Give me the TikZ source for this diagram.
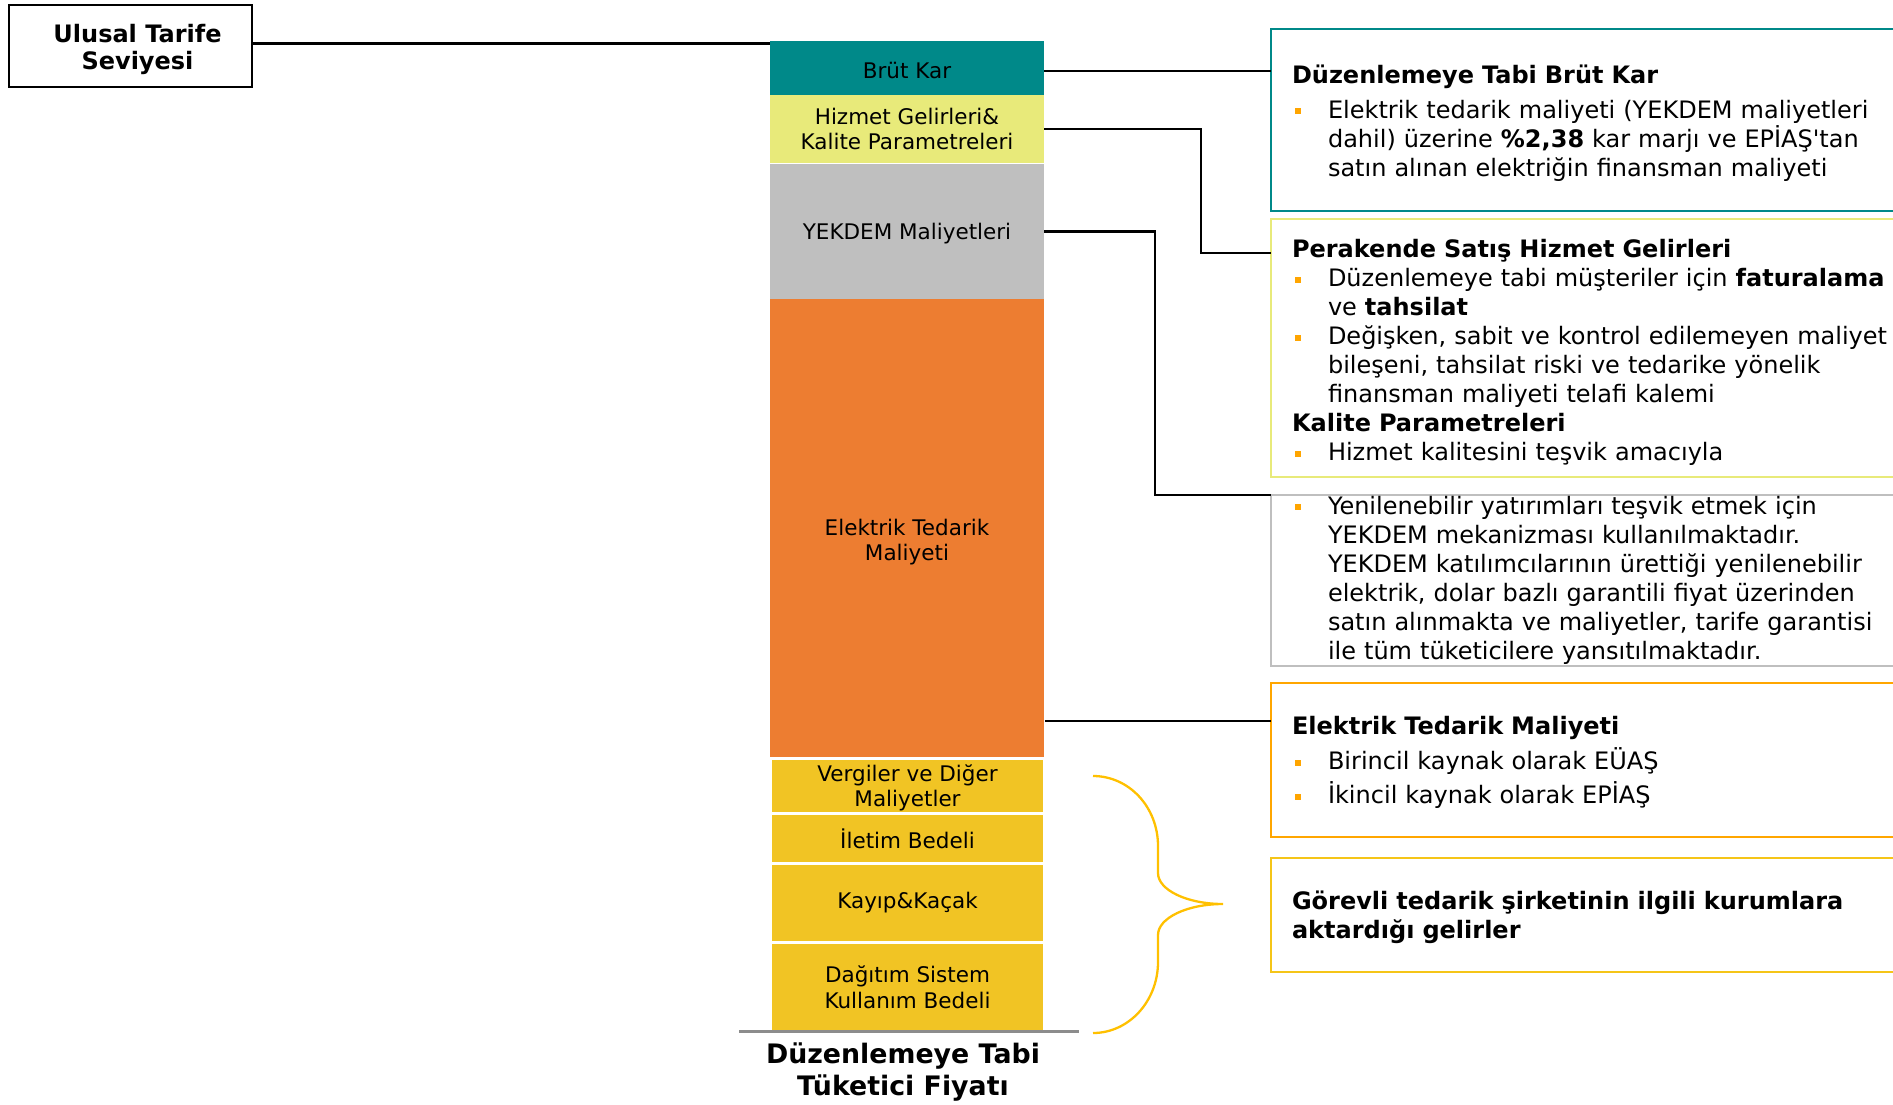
\documentclass[tikz,border=0pt]{standalone}
\usepackage{fontspec}
\setmainfont{DejaVu Sans}
\usetikzlibrary{arrows}

\definecolor{brutteal}{RGB}{0,137,137}
\definecolor{hizmetyel}{RGB}{232,234,122}
\definecolor{yekgray}{RGB}{191,191,191}
\definecolor{tedorange}{RGB}{237,125,49}
\definecolor{vergigold}{RGB}{241,196,36}
\definecolor{boxorange}{RGB}{255,166,0}
\definecolor{boxgold}{RGB}{245,197,24}
\definecolor{bracegold}{RGB}{255,192,0}
\definecolor{bulletor}{RGB}{255,165,0}

\newcommand\bulitem{\makebox[36pt][l]{\hspace{3pt}\textcolor{bulletor}{\rule[4pt]{6pt}{6pt}}}}
\newcommand\bulpad{\hspace*{36pt}}

\tikzset{
  seg/.style={fill=#1, minimum width=274pt, inner sep=0pt, outer sep=0pt,
    align=center, font=\fontsize{21.5}{25.5}\selectfont},
  infobox/.style={draw=#1, line width=2pt, anchor=west, outer sep=0pt,
    text width=650pt, inner xsep=21pt, inner ysep=0pt, align=left,
    font=\fontsize{24}{29}\selectfont},
  link/.style={black, line width=2.4pt},
}

\begin{document}
\begin{tikzpicture}[x=1pt,y=-1pt]
   \useasboundingbox (0,0) rectangle (1893,1104);

   \node[draw=black, line width=1.6pt, minimum width=243pt, minimum height=82pt,
     align=center, font=\bfseries\fontsize{24}{27.5}\selectfont] (ulusal) at (130.5,46)
     {\rule{0pt}{25.5pt}\hspace*{14pt}Ulusal Tarife\\\hspace*{14pt}Seviyesi};

   \node[seg=brutteal, minimum height=54pt] (brut) at (907,68) {\rule{0pt}{22pt}Brüt Kar};
   \node[seg=hizmetyel, minimum height=68pt] (hizmet) at (907,129) {Hizmet Gelirleri\&\\Kalite Parametreleri};
   \node[seg=yekgray, minimum height=135pt] (yekdem) at (907,231.5) {\rule{0pt}{20pt}YEKDEM Maliyetleri};
   \node[seg=tedorange, minimum height=458pt] (tedarik) at (907,528) {\rule{0pt}{44pt}Elektrik Tedarik\\Maliyeti};
   \node[seg=vergigold, minimum width=271pt, minimum height=52pt] (vergi) at (907.5,786) {\rule{0pt}{20pt}Vergiler ve Diğer\\Maliyetler};
   \node[seg=vergigold, minimum width=271pt, minimum height=47pt] (iletim) at (907.5,838.5) {İletim Bedeli};
   \node[seg=vergigold, minimum width=271pt, minimum height=76pt] (kayip) at (907.5,903) {Kayıp\&Kaçak};
   \node[seg=vergigold, minimum width=271pt, minimum height=86pt] (dagitim) at (907.5,987) {Dağıtım Sistem\\Kullanım Bedeli};

   \draw[black!45, line width=2.5pt] (739,1031.5) -- (1079,1031.5);
   \node[align=center, font=\bfseries\fontsize{26.8}{31.5}\selectfont] (fiyat) at (903,1072)
     {Düzenlemeye Tabi\\Tüketici Fiyatı};

   \node[infobox=brutteal, minimum height=182pt] (brutbox) at (1271,120) {%
     \rule{0pt}{24.5pt}\textbf{Düzenlemeye Tabi Brüt Kar}\\[6pt]
     \bulitem Elektrik tedarik maliyeti (YEKDEM maliyetleri\\
     \bulpad dahil) üzerine \textbf{\%2,38} kar marjı ve EPİAŞ\textquotesingle tan\\
     \bulpad satın alınan elektriğin finansman maliyeti};
   \node[infobox=hizmetyel, minimum height=258pt] (hizmetbox) at (1271,348) {%
     \rule{0pt}{27.5pt}\textbf{Perakende Satış Hizmet Gelirleri}\\
     \bulitem Düzenlemeye tabi müşteriler için \textbf{faturalama}\\
     \bulpad ve \textbf{tahsilat}\\
     \bulitem Değişken, sabit ve kontrol edilemeyen maliyet\\
     \bulpad bileşeni, tahsilat riski ve tedarike yönelik\\
     \bulpad finansman maliyeti telafi kalemi\\
     \textbf{Kalite Parametreleri}\\
     \bulitem Hizmet kalitesini teşvik amacıyla};
   \node[infobox=yekgray, minimum height=171pt] (yekdembox) at (1271,580) {%
     \bulitem Yenilenebilir yatırımları teşvik etmek için\\
     \bulpad YEKDEM mekanizması kullanılmaktadır.\\
     \bulpad YEKDEM katılımcılarının ürettiği yenilenebilir\\
     \bulpad elektrik, dolar bazlı garantili fiyat üzerinden\\
     \bulpad satın alınmakta ve maliyetler, tarife garantisi\\
     \bulpad ile tüm tüketicilere yansıtılmaktadır.};
   \node[infobox=boxorange, minimum height=154pt] (tedarikbox) at (1271,760) {%
     \rule{0pt}{23pt}\textbf{Elektrik Tedarik Maliyeti}\\[6pt]
     \bulitem Birincil kaynak olarak EÜAŞ\\[5pt]
     \bulitem İkincil kaynak olarak EPİAŞ};
   \node[infobox=boxgold, minimum height=114pt] (gorevbox) at (1271,915) {%
     \rule{0pt}{23pt}\textbf{Görevli tedarik şirketinin ilgili kurumlara}\\
     \textbf{aktardığı gelirler}};

   \coordinate (hzturn) at (1201,253);
   \coordinate (ykturn) at (1155,495);
   \coordinate (tdout) at (1045,721);
   \draw[link] ([yshift=2.5pt]ulusal.east) -- ([yshift=2.5pt]ulusal.east -| brut.west);
   \draw[link] ([yshift=-3pt]brut.east) -- ([yshift=-3pt]brut.east -| brutbox.west);
   \draw[link] (hizmet.east) -| (hzturn) -- (hzturn -| hizmetbox.west);
   \draw[link] (yekdem.east) -| (ykturn) -- (ykturn -| yekdembox.west);
   \draw[link] (tdout) -- (tdout -| tedarikbox.west);

   \draw[bracegold, line width=2.3pt] (1093,776) .. controls (1129,776) and (1158,807) .. (1158,846)
     -- (1158,873) .. controls (1158,890) and (1187,904) .. (1223,904)
     .. controls (1187,904) and (1158,918) .. (1158,935)
     -- (1158,962) .. controls (1158,1001) and (1129,1033) .. (1093,1033);
\end{tikzpicture}
\end{document}
